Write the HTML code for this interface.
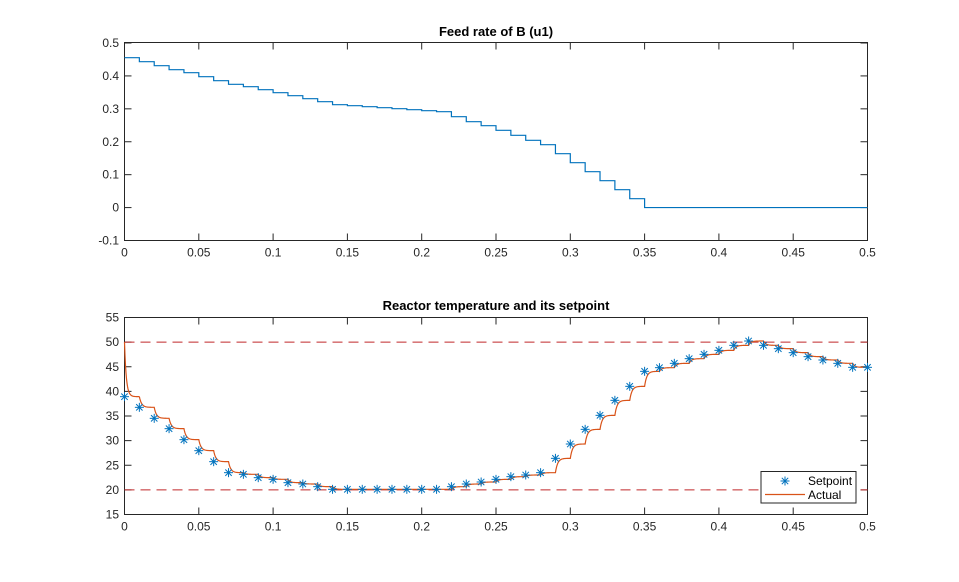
<!DOCTYPE html>
<html><head><meta charset="utf-8"><style>
html,body{margin:0;padding:0;background:#fff;}
svg text{font-family:"Liberation Sans",Arial,sans-serif;font-size:12px;fill:#262626;}
</style></head><body>
<svg id="s" width="959" height="577" xmlns="http://www.w3.org/2000/svg">
<rect width="959" height="577" fill="#fff"/>
<text x="496" y="36" text-anchor="middle" style="font-weight:bold;font-size:13px;fill:#000">Feed rate of B (u1)</text>
<text x="496" y="310" text-anchor="middle" style="font-weight:bold;font-size:13px;fill:#000">Reactor temperature and its setpoint</text>
<g id="g"></g>
</svg>
<script>
var g=document.getElementById('g'),NS='http://www.w3.org/2000/svg';
function el(t,a,txt){var e=document.createElementNS(NS,t);for(var k in a)e.setAttribute(k,a[k]);if(txt!==undefined)e.textContent=txt;g.appendChild(e);return e;}
var X0=124.5,X1=867.5;function X(t){return X0+t*(X1-X0)/0.5;}
function axes(yt,yb,vals,toY){
 el('rect',{x:X0,y:yt,width:X1-X0,height:yb-yt,fill:'#fff',stroke:'#262626','stroke-width':1});
 var xl=['0','0.05','0.1','0.15','0.2','0.25','0.3','0.35','0.4','0.45','0.5'];
 for(var i=0;i<=10;i++){var x=X(i*0.05);
  el('line',{x1:x,y1:yb,x2:x,y2:yb-7,stroke:'#262626'});el('line',{x1:x,y1:yt,x2:x,y2:yt+7,stroke:'#262626'});
  el('text',{x:x,y:yb+16,'text-anchor':'middle'},xl[i]);}
 vals.forEach(function(v){var y=toY(v);
  el('line',{x1:X0,y1:y,x2:X0+7,y2:y,stroke:'#262626'});el('line',{x1:X1,y1:y,x2:X1-7,y2:y,stroke:'#262626'});
  el('text',{x:119,y:y+4,'text-anchor':'end'},v);});
}
function Y1(v){return 240.5-(v+0.1)/0.6*197.5;}
axes(42.5,240.5,['0.5','0.4','0.3','0.2','0.1','0','-0.1'],function(v){return Y1(+v);});
var zs=[83,95,107,119,128,140,152,163,170,179,188,197,206,215,224,227,230,233,236,239,242,245,260,275,287,301,316,331,344,371,398,425,452,479,506];
var d='';for(var i=0;i<zs.length;i++){var y=zs[i]/3+30;d+=(i==0?'M':'L')+X(i*0.01)+','+y+'L'+X((i+1)*0.01)+','+y;}
var y0=Y1(0);d+='L'+X(0.35)+','+y0+'L'+X(0.5)+','+y0;
el('path',{d:d,fill:'none',stroke:'#0072bd','stroke-width':1.2});
function Y2(v){return 514.5-(v-15)/40*197;}
axes(317.5,514.5,['55','50','45','40','35','30','25','20','15'],function(v){return Y2(+v);});
el('line',{x1:X0,y1:Y2(50),x2:X1,y2:Y2(50),stroke:'#c0282a','stroke-width':1,'stroke-dasharray':'10,6'});
el('line',{x1:X0,y1:Y2(20),x2:X1,y2:Y2(20),stroke:'#c0282a','stroke-width':1,'stroke-dasharray':'10,6'});
var a=[260,292,325,356,389,422,455,488,493,503,508,518,522,530,538,538,538,538,538,538,538,538,530,522,516,508,500,495];
var b=[488,445,402,358,316,271,229,184,173,160,146,133,121,106,93,106,116,128,140,150,160,172,172];
var sp=a.concat(b).map(function(z){return z/3+310;});
var p='',prev=Y2(50),tau=2.2,dx=X(0.01)-X(0);
for(var i=0;i<50;i++){var t0=X(i*0.01),tg=sp[i];
 for(var k=0;k<=30;k++){var x=t0+dx*k/30;var y=tg+(prev-tg)*Math.exp(-(x-t0)/(i==0?1.8:tau));p+=(p?'L':'M')+x.toFixed(2)+','+y.toFixed(2);}
 prev=tg+(prev-tg)*Math.exp(-dx/tau);}
el('path',{d:p,fill:'none',stroke:'#d95319','stroke-width':1.2});
function star(x,y){var r=4.5,c='#0072bd';
 el('line',{x1:x-r,y1:y,x2:x+r,y2:y,stroke:c});el('line',{x1:x,y1:y-r,x2:x,y2:y+r,stroke:c});
 el('line',{x1:x-3.2,y1:y-3.2,x2:x+3.2,y2:y+3.2,stroke:c});el('line',{x1:x-3.2,y1:y+3.2,x2:x+3.2,y2:y-3.2,stroke:c});}
for(var i=0;i<=50;i++)star(X(i*0.01),sp[i]);
el('rect',{x:761,y:471.5,width:95,height:31.5,fill:'#fff',stroke:'#262626'});
star(785,481);
el('line',{x1:765,y1:494.5,x2:805,y2:494.5,stroke:'#d95319','stroke-width':1.2});
el('text',{x:808,y:485,style:'font-size:12px;fill:#000'},'Setpoint');
el('text',{x:808,y:499,style:'font-size:12px;fill:#000'},'Actual');
</script>
</body></html>
